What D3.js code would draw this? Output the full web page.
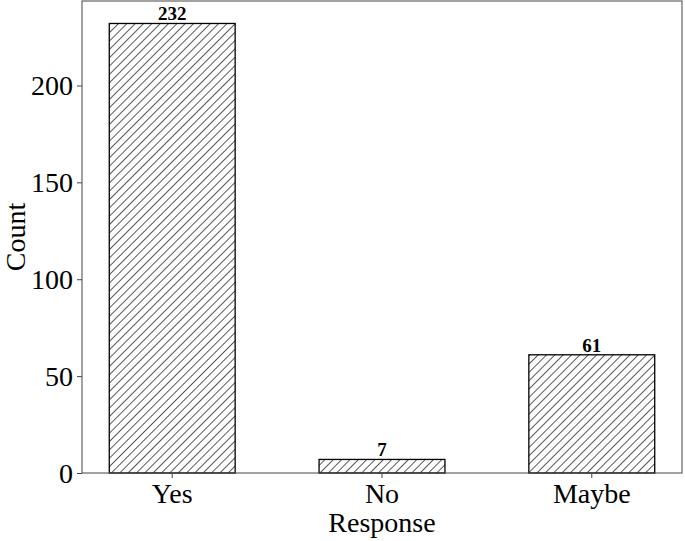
<!DOCTYPE html>
<html>
<head>
<meta charset="utf-8">
<script src="https://cdn.jsdelivr.net/npm/d3@7"></script>
<style>
  body { margin: 0; background: #fff; }
  text { font-family: "Liberation Serif", "Times New Roman", serif; fill: #000; }
</style>
</head>
<body>
<svg width="685" height="541"></svg>
<script>
// data
var categories = ["Yes", "No", "Maybe"];
var counts = [232, 7, 61];
var yTicks = [0, 50, 100, 150, 200];

var svg = d3.select("svg"),
    margin = {top: 1, right: 3, bottom: 68, left: 82},
    width = +svg.attr("width") - margin.left - margin.right,
    height = +svg.attr("height") - margin.top - margin.bottom;

var g = svg.append("g").attr("transform", "translate(" + margin.left + "," + margin.top + ")");

// hatch pattern ("//")
svg.append("defs").append("pattern")
    .attr("id", "hatch")
    .attr("patternUnits", "userSpaceOnUse")
    .attr("width", 5.9)
    .attr("height", 5.9)
    .attr("patternTransform", "rotate(45)")
  .append("line")
    .attr("x1", 0).attr("y1", 0)
    .attr("x2", 0).attr("y2", 5.9)
    .attr("stroke", "#000")
    .attr("stroke-width", 1.3);

var x = d3.scaleBand()
    .domain(categories)
    .range([0, width])
    .paddingInner(0.4)
    .paddingOuter(0.13);

var y = d3.scaleLinear()
    .domain([0, d3.max(counts) * 1.05])
    .range([height, 0]);

// bars
g.selectAll(".bar")
  .data(categories)
  .enter().append("rect")
    .attr("class", "bar")
    .attr("x", function(d) { return x(d); })
    .attr("y", function(d, i) { return y(counts[i]); })
    .attr("width", x.bandwidth())
    .attr("height", function(d, i) { return height - y(counts[i]); })
    .attr("fill", "url(#hatch)")
    .attr("stroke", "#000")
    .attr("stroke-width", 1.3);

// value labels
g.selectAll(".val")
  .data(categories)
  .enter().append("text")
    .attr("class", "val")
    .attr("x", function(d) { return x(d) + x.bandwidth() / 2; })
    .attr("y", function(d, i) { return y(counts[i]) - 3; })
    .attr("text-anchor", "middle")
    .style("font-size", "19px")
    .style("font-weight", "bold")
    .text(function(d, i) { return counts[i]; });

// axes
var xAxis = g.append("g")
    .attr("transform", "translate(0," + height + ")")
    .call(d3.axisBottom(x).tickSize(5).tickPadding(4));
xAxis.selectAll("text").style("font-size", "28px").attr("dy", "0.75em");

var yAxis = g.append("g")
    .call(d3.axisLeft(y).tickValues(yTicks).tickSize(5).tickPadding(4));
yAxis.selectAll("text").style("font-size", "28px").attr("dy", "0.33em");

g.selectAll(".domain").remove();
g.selectAll(".tick line").attr("stroke", "#444");

// frame
g.append("rect")
    .attr("width", width)
    .attr("height", height)
    .attr("fill", "none")
    .attr("stroke", "#444")
    .attr("stroke-width", 1);

// axis titles
g.append("text")
    .attr("x", width / 2)
    .attr("y", height + 59)
    .attr("text-anchor", "middle")
    .style("font-size", "28px")
    .text("Response");

g.append("text")
    .attr("transform", "rotate(-90)")
    .attr("x", -height / 2)
    .attr("y", -57)
    .attr("text-anchor", "middle")
    .style("font-size", "28px")
    .text("Count");
</script>
</body>
</html>
